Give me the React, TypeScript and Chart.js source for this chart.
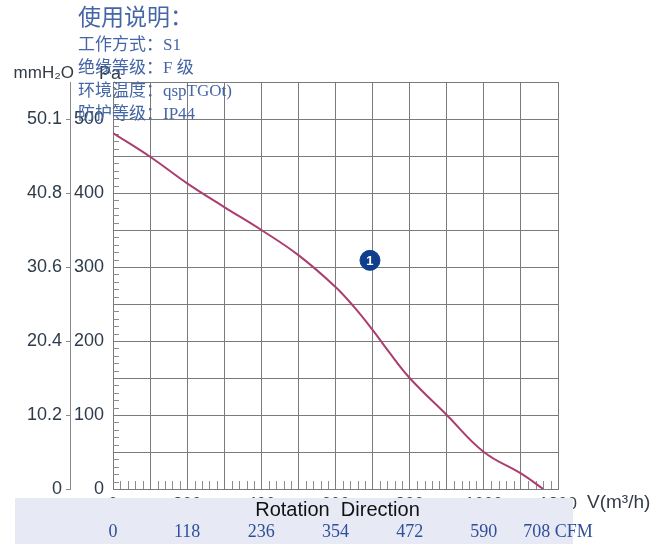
import React, { useEffect, useRef } from 'react';
import { Chart, registerables } from 'chart.js';

Chart.register(...registerables);

// ---- data ----
const flowM3h = [0, 100, 200, 300, 400, 500, 600, 650, 700, 740, 800, 900, 1000, 1100, 1160];
const pressurePa = [481, 449, 413, 381, 350, 316, 273, 246, 215, 188, 150, 100, 50, 21, 0];

const xTickValues = [0, 200, 400, 600, 800, 1000, 1200];
const xTickLabels = ['0', '200', '400', '600', '800', '1000', '1200'];
const cfmLabels = ['0', '118', '236', '354', '472', '590', '708 CFM'];

const paTickValues = [0, 100, 200, 300, 400, 500];
const paLabels = ['0', '100', '200', '300', '400', '500'];
const mmLabels = ['0', '10.2', '20.4', '30.6', '40.8', '50.1'];

const markerFlow = [693];
const markerPressure = [309];
const markerText = ['1'];

const noteTitle = '使用说明：';
const noteLines = ['工作方式：S1', '绝缘等级：F 级', '环境温度：qspTGOt)', '防护等级：IP44'];

const xAxisTitle = 'V(m³/h)';
const mmTitle = 'mmH₂O';
const paTitle = 'Pa';
const bandText = 'Rotation  Direction';

const SANS = '"Liberation Sans", Arial, sans-serif';
const SERIF = '"Liberation Serif", "Times New Roman", serif';

const labelFor = (values: number[], labels: string[]) => (v: any) => {
  const i = values.indexOf(Number(v));
  return i >= 0 ? labels[i] : '';
};

const decorPlugin = {
  id: 'decor',
  beforeDatasetsDraw(chart: any) {
    const { ctx, chartArea, scales } = chart;
    const xs = scales.x;
    const ys = scales.y;
    ctx.save();
    ctx.strokeStyle = '#8c8c8c';
    ctx.lineWidth = 1;
    for (let v = 0; v < 550; v += 10) {
      if (v % 50 === 0) continue;
      const py = Math.round(ys.getPixelForValue(v)) + 0.5;
      ctx.beginPath();
      ctx.moveTo(chartArea.left, py);
      ctx.lineTo(chartArea.left + 6, py);
      ctx.stroke();
    }
    for (let v = 0; v < 1200; v += 20) {
      if (v % 100 === 0) continue;
      const px = Math.round(xs.getPixelForValue(v)) + 0.5;
      ctx.beginPath();
      ctx.moveTo(px, chartArea.bottom);
      ctx.lineTo(px, chartArea.bottom - 8);
      ctx.stroke();
    }
    ctx.restore();
  },
  afterDatasetsDraw(chart: any) {
    const { ctx, scales } = chart;
    const xs = scales.x;
    ctx.save();
    // marker text
    const meta = chart.getDatasetMeta(1);
    meta.data.forEach((el: any, i: number) => {
      ctx.fillStyle = '#ffffff';
      ctx.font = `bold 13px ${SANS}`;
      ctx.textAlign = 'center';
      ctx.textBaseline = 'middle';
      ctx.fillText(markerText[i], el.x, el.y + 1);
    });
    // axis titles
    ctx.fillStyle = '#333b45';
    ctx.font = `17px ${SANS}`;
    ctx.textBaseline = 'middle';
    ctx.textAlign = 'right';
    ctx.fillText(mmTitle, scales.yMm.right + 4, 73);
    ctx.textAlign = 'left';
    ctx.font = `18px ${SANS}`;
    ctx.fillText(paTitle, scales.y.left + 29, 74);
    ctx.font = `19px ${SANS}`;
    ctx.fillText(xAxisTitle, xs.right + 29, xs.top + 14);
    // band
    ctx.fillStyle = '#e7e9f5';
    const bandTop = xs.top + 9;
    ctx.fillRect(15, bandTop, xs.right, chart.height - bandTop);
    ctx.fillStyle = '#111111';
    ctx.font = `20px ${SANS}`;
    ctx.textAlign = 'center';
    ctx.textBaseline = 'middle';
    ctx.fillText(bandText, (xs.left + xs.right) / 2 + 2, bandTop + 12);
    ctx.restore();
  },
};

export default function App() {
  const canvasRef = useRef<HTMLCanvasElement | null>(null);

  useEffect(() => {
    const canvas = canvasRef.current;
    if (!canvas) return;
    const chart = new Chart(canvas, {
      type: 'line',
      data: {
        datasets: [
          {
            data: flowM3h.map((x, i) => ({ x, y: pressurePa[i] })),
            borderColor: '#ac3d70',
            borderWidth: 2,
            pointRadius: 0,
            tension: 0.4,
            fill: false,
          },
          {
            type: 'scatter',
            data: markerFlow.map((x, i) => ({ x, y: markerPressure[i] })),
            backgroundColor: '#0f3f8c',
            borderColor: '#0f3f8c',
            pointRadius: 10,
            pointHoverRadius: 10,
          },
        ],
      } as any,
      plugins: [decorPlugin],
      options: {
        responsive: false,
        animation: false,
        events: [],
        layout: { padding: { left: 0, top: 82, right: 105, bottom: 0 } },
        plugins: { legend: { display: false }, tooltip: { enabled: false }, title: { display: false } },
        scales: {
          x: {
            type: 'linear',
            position: 'bottom',
            min: 0,
            max: 1200,
            weight: 0,
            afterBuildTicks: (s: any) => {
              s.ticks = [];
              for (let v = 0; v <= 1200; v += 100) s.ticks.push({ value: v });
            },
            ticks: {
              autoSkip: false,
              maxRotation: 0,
              padding: 5,
              color: '#333b45',
              font: { family: SANS, size: 17 },
              callback: labelFor(xTickValues, xTickLabels),
            },
            grid: { color: '#7a7a7a', lineWidth: 1, drawTicks: false },
            border: { color: '#7a7a7a' },
            afterFit: (s: any) => { s.height = 22; },
          },
          xCfm: {
            type: 'linear',
            position: 'bottom',
            min: 0,
            max: 1200,
            weight: 1,
            afterBuildTicks: (s: any) => {
              s.ticks = xTickValues.map((v) => ({ value: v }));
            },
            ticks: {
              z: 1,
              autoSkip: false,
              maxRotation: 0,
              padding: 10,
              color: '#2f4f9a',
              font: { family: SERIF, size: 18 },
              callback: labelFor(xTickValues, cfmLabels),
            },
            grid: { display: false, drawTicks: false },
            border: { display: false },
            afterFit: (s: any) => { s.height = 33; },
          },
          y: {
            type: 'linear',
            position: 'left',
            min: 0,
            max: 550,
            weight: 0,
            afterBuildTicks: (s: any) => {
              s.ticks = [];
              for (let v = 0; v <= 550; v += 50) s.ticks.push({ value: v });
            },
            ticks: {
              autoSkip: false,
              padding: 9,
              color: '#2e3b4b',
              font: { family: SANS, size: 18 },
              callback: labelFor(paTickValues, paLabels),
            },
            grid: { color: '#7a7a7a', lineWidth: 1, drawTicks: false },
            border: { color: '#7a7a7a' },
            afterFit: (s: any) => { s.width = 43; },
          },
          yMm: {
            type: 'linear',
            position: 'left',
            min: 0,
            max: 550,
            weight: 1,
            afterBuildTicks: (s: any) => {
              s.ticks = paTickValues.map((v) => ({ value: v }));
            },
            ticks: {
              autoSkip: false,
              padding: 4,
              color: '#2e3b4b',
              font: { family: SANS, size: 18 },
              callback: labelFor(paTickValues, mmLabels),
            },
            grid: { drawOnChartArea: false, tickLength: 4, color: '#8a8a8a' },
            border: { color: '#8a8a8a' },
            afterFit: (s: any) => { s.width = 70; },
          },
        },
      } as any,
    });
    return () => chart.destroy();
  }, []);

  return (
    <div style={{ position: 'fixed', left: 0, top: 0, width: 663, height: 544, background: '#ffffff', overflow: 'hidden' }}>
      <canvas ref={canvasRef} width={663} height={544} style={{ display: 'block' }} />
      <div
        style={{
          position: 'absolute',
          left: 78,
          top: 5,
          fontFamily: '"Liberation Serif", "Noto Sans CJK SC", serif',
          color: '#4566a6',
          pointerEvents: 'none',
        }}
      >
        <div style={{ fontSize: 23, lineHeight: '26px', whiteSpace: 'nowrap' }}>{noteTitle}</div>
        {noteLines.map((t, i) => (
          <div key={i} style={{ fontSize: 17, lineHeight: '23px', whiteSpace: 'nowrap', marginTop: i === 0 ? 2 : 0 }}>
            {t}
          </div>
        ))}
      </div>
    </div>
  );
}
